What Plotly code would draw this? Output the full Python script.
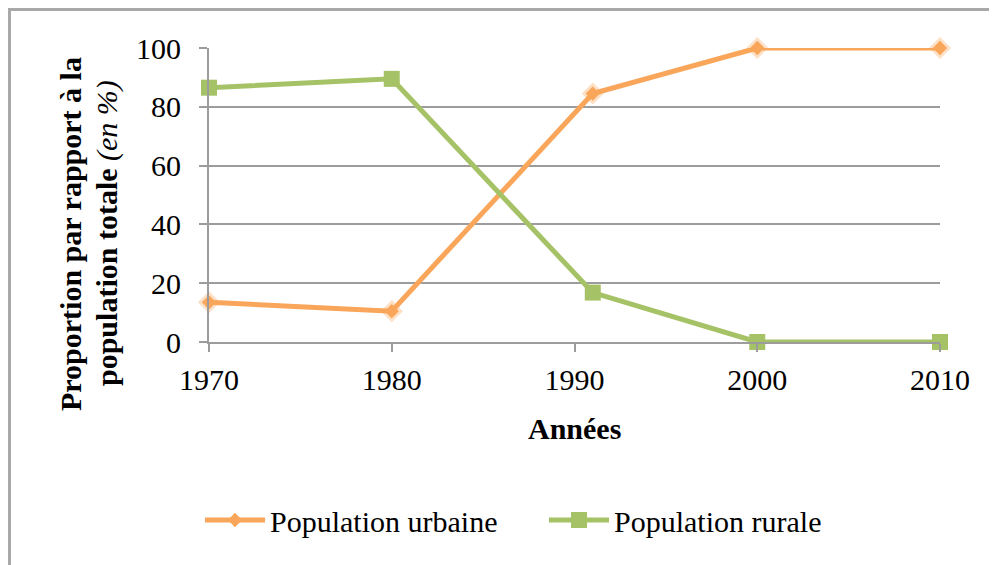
import plotly.graph_objects as go

years = [1970, 1980, 1991, 2000, 2010]
urbaine = [13.5, 10.5, 84.5, 100, 100]
rurale = [86.5, 89.5, 16.8, 0, 0]
x_ticks = [1970, 1980, 1990, 2000, 2010]
y_ticks = [0, 20, 40, 60, 80, 100]

ORANGE = "#F9A65A"
GREEN = "#A6C266"
GRID = "#9C9C9C"
FONT = "Liberation Serif"

OFF = 8  # page body margin
W, H = 997 - OFF, 565 - OFF
# plot area in page px
L, R, T, B = 209, 940, 48, 342


def px_x(p):
    return (p - L) / (R - L)


def px_y(p):
    return (B - p) / (B - T)


fig = go.Figure()
# soft glow behind orange diamonds
fig.add_trace(go.Scatter(
    x=years, y=urbaine, mode="markers", showlegend=False, hoverinfo="skip",
    marker=dict(symbol="diamond", size=17, color="rgba(249,166,90,0.35)", line=dict(width=0)),
    cliponaxis=False,
))
fig.add_trace(go.Scatter(
    x=years, y=urbaine, mode="lines+markers", name="Population urbaine",
    line=dict(color=ORANGE, width=5),
    marker=dict(symbol="diamond", size=11, color=ORANGE, line=dict(width=0)),
    cliponaxis=False,
))
fig.add_trace(go.Scatter(
    x=years, y=rurale, mode="lines+markers", name="Population rurale",
    line=dict(color=GREEN, width=5),
    marker=dict(symbol="square", size=16, color=GREEN, line=dict(width=0)),
    cliponaxis=False,
))

fig.update_layout(
    width=W, height=H,
    margin=dict(l=L - OFF, r=997 - R, t=T - OFF, b=565 - B, pad=0),
    paper_bgcolor="white", plot_bgcolor="white",
    font=dict(family=FONT, color="black", size=30),
    showlegend=True,
    legend=dict(
        orientation="h", x=px_x(200), xanchor="left", y=px_y(520), yanchor="middle",
        font=dict(family=FONT, size=30, color="black"), itemwidth=60,
        entrywidth=269, entrywidthmode="pixels",
        bgcolor="rgba(0,0,0,0)",
    ),
    xaxis=dict(
        range=[1970, 2010], tickvals=x_ticks, ticktext=[str(v) for v in x_ticks],
        showgrid=False, zeroline=False, showline=True, linecolor=GRID, linewidth=2,
        ticks="outside", ticklen=8, tickwidth=2, tickcolor=GRID,
        tickfont=dict(family=FONT, size=30, color="black"), ticklabelstandoff=2,
    ),
    yaxis=dict(
        range=[0, 100], tickvals=y_ticks,
        showgrid=True, gridcolor=GRID, gridwidth=2, zeroline=False,
        showline=True, linecolor=GRID, linewidth=2,
        ticks="outside", ticklen=8, tickwidth=2, tickcolor=GRID,
        tickfont=dict(family=FONT, size=30, color="black"), ticklabelstandoff=12,
    ),
    annotations=[
        dict(
            text="<b>Proportion par rapport à la</b>",
            xref="paper", yref="paper", x=px_x(70), y=px_y(234),
            xanchor="center", yanchor="middle", textangle=-90, showarrow=False,
            font=dict(family=FONT, size=30, color="black"),
        ),
        dict(
            text="<b>population totale</b> <i>(en %)</i>",
            xref="paper", yref="paper", x=px_x(107), y=px_y(233),
            xanchor="center", yanchor="middle", textangle=-90, showarrow=False,
            font=dict(family=FONT, size=30, color="black"),
        ),
        dict(
            text="<b>Années</b>", xref="paper", yref="paper", x=0.5, y=px_y(428),
            xanchor="center", yanchor="middle", showarrow=False,
            font=dict(family=FONT, size=30, color="black"),
        ),
    ],
    shapes=[
        dict(type="rect", xref="paper", yref="paper",
             x0=px_x(9.5), y0=px_y(9.5), x1=px_x(1100), y1=px_y(700),
             line=dict(color="#A8A8A8", width=3), layer="below"),
    ],
)

fig.write_html("out.html")
